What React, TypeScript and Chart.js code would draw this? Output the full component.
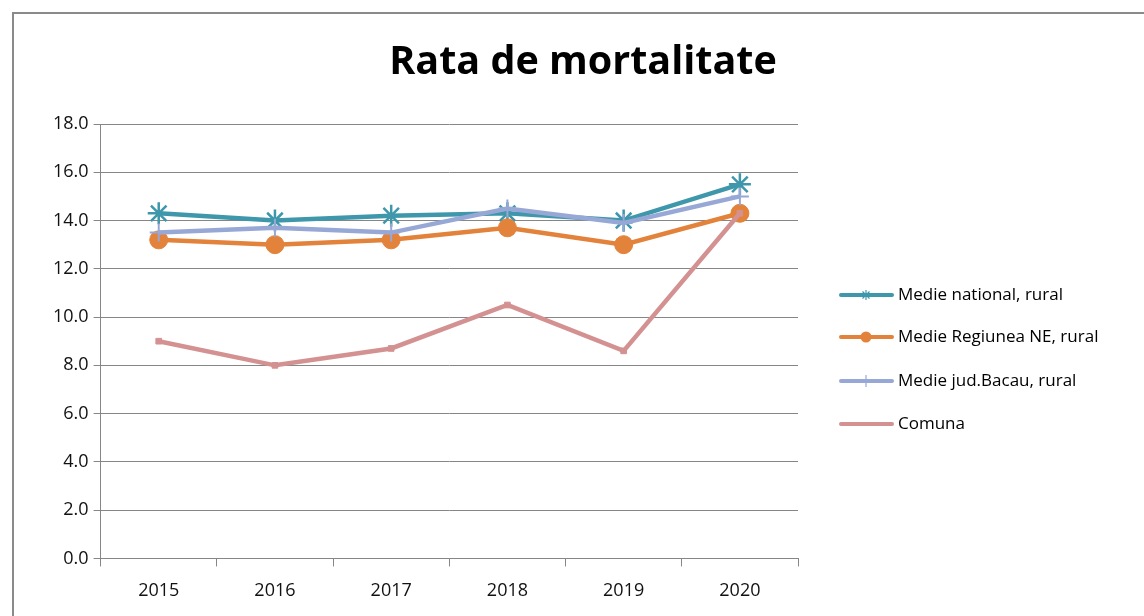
import React, { useEffect, useRef } from "react";
import { Chart, registerables } from "chart.js";

Chart.register(...registerables);

const categories = ["2015", "2016", "2017", "2018", "2019", "2020"];
const seriesNames = [
  "Medie national, rural",
  "Medie Regiunea NE, rural",
  "Medie jud.Bacau, rural",
  "Comuna",
];
const nationalValues = [14.3, 14.0, 14.2, 14.3, 14.0, 15.5];
const regionValues = [13.2, 13.0, 13.2, 13.7, 13.0, 14.3];
const bacauValues = [13.5, 13.7, 13.5, 14.5, 13.9, 15.0];
const comunaValues = [9.0, 8.0, 8.7, 10.5, 8.6, 14.3];
const titleText = "Rata de mortalitate";

const FONT = "'Open Sans', 'Noto Sans', sans-serif";
const COLORS = ["#3E97AB", "#E3823A", "#98A8D6", "#D39291"];
const POINT_STYLES = ["star", "circle", "cross", "rect"];

export default function App() {
  const ref = useRef<HTMLCanvasElement | null>(null);

  useEffect(() => {
    if (!ref.current) return;

    const framePlugin = {
      id: "frame",
      beforeDraw(chart: any) {
        const ctx = chart.ctx;
        ctx.save();
        ctx.fillStyle = "#ffffff";
        ctx.fillRect(0, 0, chart.width, chart.height);
        ctx.strokeStyle = "#8a8a8a";
        ctx.lineWidth = 2;
        ctx.beginPath();
        ctx.moveTo(13, chart.height);
        ctx.lineTo(13, 13);
        ctx.lineTo(chart.width, 13);
        ctx.stroke();
        // title
        ctx.fillStyle = "#000000";
        ctx.font = `bold 39.5px ${FONT}`;
        ctx.textAlign = "center";
        ctx.textBaseline = "middle";
        ctx.fillText(titleText, 583, 63);
        ctx.restore();
      },
      afterDraw(chart: any) {
        const ctx = chart.ctx;
        const ys = [295, 337, 381, 424];
        ctx.save();
        chart.data.datasets.forEach((ds: any, i: number) => {
          const y = ys[i];
          ctx.strokeStyle = ds.borderColor;
          ctx.lineWidth = 4;
          ctx.lineCap = "round";
          ctx.beginPath();
          ctx.moveTo(841, y);
          ctx.lineTo(892, y);
          ctx.stroke();
          const style = ds.pointStyle;
          ctx.lineCap = "butt";
          if (style === "star") {
            ctx.lineWidth = 1.2;
            ctx.beginPath();
            const r = 5;
            ctx.moveTo(866 - r, y); ctx.lineTo(866 + r, y);
            ctx.moveTo(866, y - r); ctx.lineTo(866, y + r);
            ctx.moveTo(866 - r * 0.7, y - r * 0.7); ctx.lineTo(866 + r * 0.7, y + r * 0.7);
            ctx.moveTo(866 - r * 0.7, y + r * 0.7); ctx.lineTo(866 + r * 0.7, y - r * 0.7);
            ctx.stroke();
          } else if (style === "circle") {
            ctx.fillStyle = ds.pointBackgroundColor;
            ctx.beginPath();
            ctx.arc(866, y, 5.5, 0, Math.PI * 2);
            ctx.fill();
          } else if (style === "cross") {
            ctx.lineWidth = 1.2;
            ctx.beginPath();
            ctx.moveTo(866, y - 6); ctx.lineTo(866, y + 6);
            ctx.stroke();
          }
          ctx.fillStyle = "#000000";
          ctx.font = `17px ${FONT}`;
          ctx.textAlign = "left";
          ctx.textBaseline = "middle";
          ctx.fillText(ds.label, 898, y);
        });
        ctx.restore();
      },
    };

    const allValues = [nationalValues, regionValues, bacauValues, comunaValues];
    const radii = [11, 9, 9, 4];
    const pointBorderWidths = [2.5, 1, 2, 1];

    const chart = new Chart(ref.current, {
      type: "line",
      data: {
        labels: categories,
        datasets: allValues.map((vals, i) => ({
          label: seriesNames[i],
          data: vals,
          borderColor: COLORS[i],
          backgroundColor: COLORS[i],
          pointBackgroundColor: COLORS[i],
          pointBorderColor: COLORS[i],
          pointStyle: POINT_STYLES[i] as any,
          pointRadius: radii[i],
          pointBorderWidth: pointBorderWidths[i],
          borderWidth: 4.5,
          tension: 0,
          fill: false,
          order: 4 - i,
        })),
      },
      options: {
        responsive: false,
        animation: false,
        layout: { padding: { left: 48, right: 346, top: 124, bottom: 0 } },
        plugins: {
          legend: { display: false },
          title: { display: false },
          tooltip: { enabled: false },
        },
        scales: {
          x: {
            offset: true,
            grid: {
              offset: true,
              drawOnChartArea: false,
              drawTicks: true,
              tickLength: 8,
              color: "#868686",
              tickColor: "#868686",
            },
            border: { display: true, color: "#868686", width: 1 },
            ticks: {
              color: "#111111",
              font: { family: FONT, size: 18 },
              padding: 14,
              maxRotation: 0,
            },
          },
          y: {
            min: 0,
            max: 18,
            grid: {
              color: "#868686",
              tickColor: "#868686",
              tickLength: 7,
              lineWidth: 1,
            },
            border: { display: true, color: "#868686", width: 1 },
            ticks: {
              stepSize: 2,
              color: "#111111",
              font: { family: FONT, size: 18 },
              padding: 5,
              callback: (v: any) => Number(v).toFixed(1),
            },
          },
        },
      },
      plugins: [framePlugin],
    });

    return () => chart.destroy();
  }, []);

  return (
    <div style={{ position: "absolute", left: 0, top: 0, width: 1144, height: 616 }}>
      <canvas ref={ref} width={1144} height={616} style={{ display: "block" }} />
    </div>
  );
}
